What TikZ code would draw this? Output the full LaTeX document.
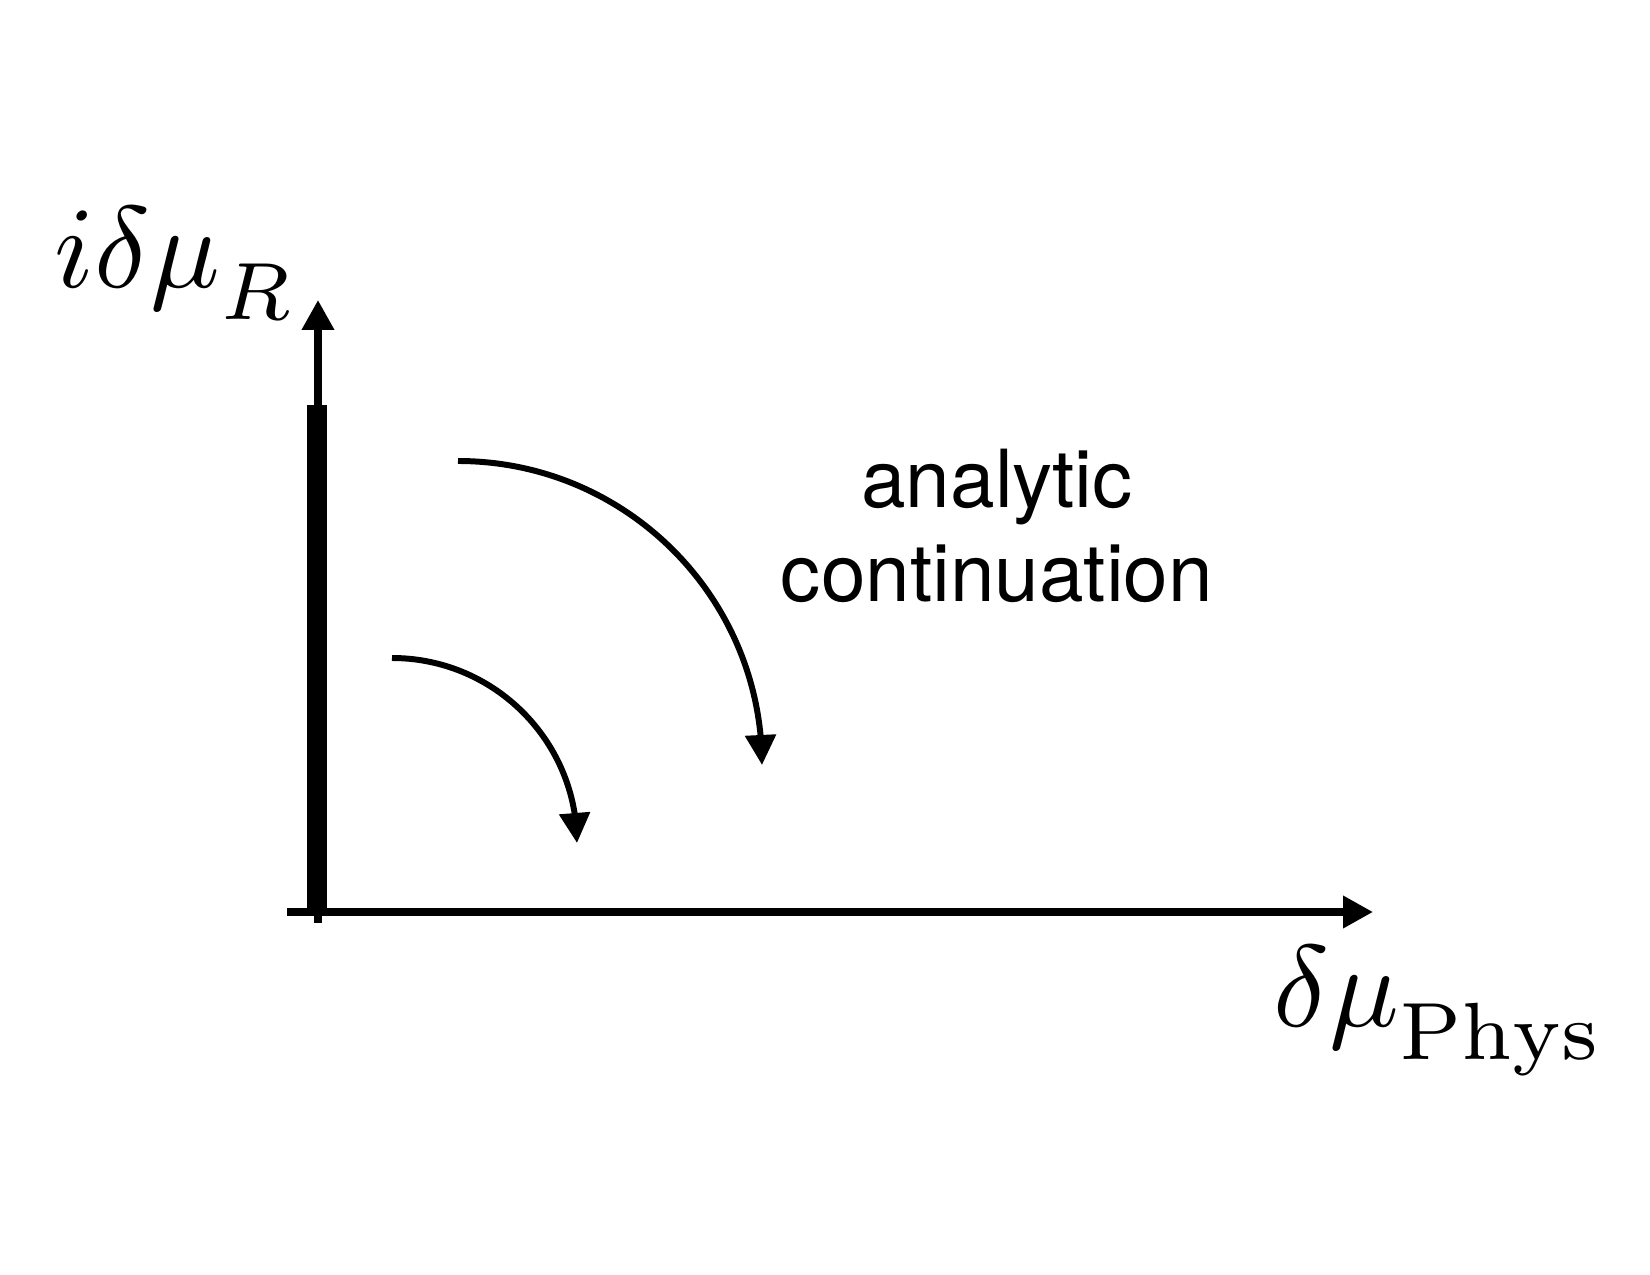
\documentclass[tikz,border=0pt]{standalone}
\usepackage{fontspec}
\setsansfont{TeX Gyre Heros}
\usepackage{amsmath}
\usetikzlibrary{arrows.meta, bending}

\begin{document}
\begin{tikzpicture}[
  axis/.style={line width=2pt, -{Triangle[length=3mm, width=3.1mm]}},
  arrow/.style={line width=1.7pt, -{Triangle[length=3mm, width=3mm]}},
  cut/.style={line width=5.7pt},
  lbl/.style={inner sep=0pt, scale=3.3},
]
\useasboundingbox (0,0) rectangle (16.5,12.75);

% axes
\coordinate (ybot) at (3.18,3.52);
\coordinate (ytop) at (3.18,9.75);
\coordinate (xleft) at (2.87,3.63);
\coordinate (xright) at (13.73,3.63);
\draw[axis] (ybot) -- (ytop);
\draw[axis] (xleft) -- (xright);

% thick segment on the imaginary axis
\coordinate (cutbot) at (3.17,3.65);
\coordinate (cuttop) at (3.17,8.70);
\draw[cut] (cutbot) -- (cuttop);

% rotation arrows
\coordinate (outer) at (4.58,8.14);
\coordinate (inner) at (3.92,6.17);
\draw[arrow] (outer) arc[start angle=90, end angle=0, radius=3.04];
\draw[arrow] (inner) arc[start angle=90, end angle=0, radius=1.85];

% labels
\node[lbl, anchor=base west] (imlabel) at (0.52,9.87) {$i\delta\mu^{}_R$};
\node[lbl, anchor=base west] (relabel) at (12.71,2.48) {$\delta\mu^{}_{\mathrm{Phys}}$};
\node[font=\sffamily\fontsize{22.8}{27}\selectfont, align=center, anchor=base] (contlabel) at (9.97,6.73) {analytic\\continuation};
\end{tikzpicture}
\end{document}
